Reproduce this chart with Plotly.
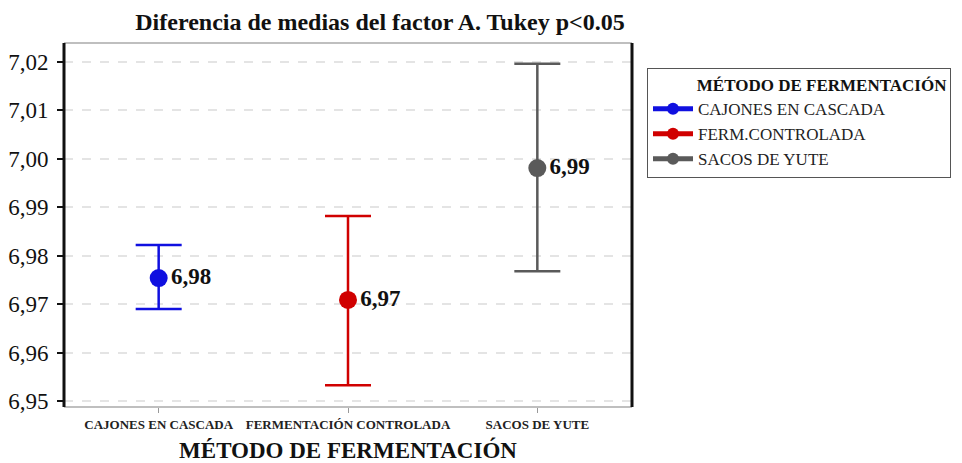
import plotly.graph_objects as go

categories = ["CAJONES EN CASCADA", "FERMENTACIÓN CONTROLADA", "SACOS DE YUTE"]
legend_names = ["CAJONES EN CASCADA", "FERM.CONTROLADA", "SACOS DE YUTE"]
means = [6.9754, 6.9709, 6.9981]
upper = [6.9822, 6.9882, 7.0196]
lower = [6.9690, 6.9533, 6.9768]
labels = ["6,98", "6,97", "6,99"]
colors = ["#1010e0", "#d00000", "#5a5a5a"]
ytick_vals = [6.95, 6.96, 6.97, 6.98, 6.99, 7.00, 7.01, 7.02]

SERIF = "Liberation Serif, Times New Roman, serif"

# page has an 8px body margin; figure is placed at (8, 8)
W, H = 954, 455
L, R, T, B = 56, 330, 35, 56
PW, PH = W - L - R, H - T - B

fig = go.Figure()
for i, cat in enumerate(categories):
    fig.add_trace(go.Scatter(
        x=[cat], y=[means[i]],
        mode="lines+markers+text",
        name=legend_names[i],
        text=["<b>" + labels[i] + "</b>"],
        textposition="middle right",
        textfont=dict(family=SERIF, size=23, color="#111111"),
        marker=dict(color=colors[i], size=18),
        line=dict(color=colors[i], width=2.5),
        error_y=dict(type="data", symmetric=False,
                     array=[upper[i] - means[i]],
                     arrayminus=[means[i] - lower[i]],
                     color=colors[i], thickness=2.5, width=23),
    ))

fig.update_layout(
    width=W, height=H,
    margin=dict(l=L, r=R, t=T, b=B, autoexpand=False),
    paper_bgcolor="white", plot_bgcolor="white",
    separators=",.",
    title=dict(text="<b>Diferencia de medias del factor A. Tukey p<0.05</b>",
               x=(380 - 64) / PW, xref="paper", xanchor="center",
               y=1 - 14 / H, yanchor="middle",
               font=dict(family=SERIF, size=24, color="#111111")),
    showlegend=True,
    legend=dict(
        x=(647 - 64) / PW, xanchor="left",
        y=(407 - 68) / PH, yanchor="top",
        bordercolor="#555555", borderwidth=1,
        font=dict(family=SERIF, size=17, color="#222222"),
        title=dict(text="&nbsp;" * 11 + "<b>MÉTODO DE FERMENTACIÓN</b>",
                   font=dict(family=SERIF, size=17, color="#111111"),
                   side="top"),
        itemwidth=40, tracegroupgap=0, itemsizing="constant",
    ),
    xaxis=dict(
        type="category", categoryorder="array", categoryarray=categories,
        range=[-0.5, 2.5], tickangle=0, automargin=False,
        showgrid=False, zeroline=False, showline=False,
        ticks="outside", ticklen=5, tickcolor="#999999",
        tickfont=dict(family=SERIF, size=13, color="#222222"),
        tickprefix="<b>", ticksuffix="</b>",
        title=dict(text="<b>MÉTODO DE FERMENTACIÓN</b>",
                   font=dict(family=SERIF, size=23, color="#111111"),
                   standoff=16),
    ),
    yaxis=dict(
        range=[6.9488, 7.0239], automargin=False,
        tickvals=ytick_vals, tickformat=".2f",
        showgrid=True, gridcolor="#e4e4e4", griddash="dash", gridwidth=1.5,
        zeroline=False, showline=False,
        ticks="outside", ticklen=6, tickcolor="#111111", tickwidth=2,
        ticklabelstandoff=4,
        tickfont=dict(family=SERIF, size=23, color="#111111"),
        tickprefix="<b>", ticksuffix="</b>",
    ),
    shapes=[
        dict(type="line", xref="paper", yref="paper", x0=0, x1=1, y0=1, y1=1,
             line=dict(color="#aaaaaa", width=1.5)),
        dict(type="line", xref="paper", yref="paper", x0=0, x1=1, y0=0, y1=0,
             line=dict(color="#aaaaaa", width=1.5)),
        dict(type="line", xref="paper", yref="paper", x0=0, x1=0, y0=0, y1=1,
             line=dict(color="#111111", width=3)),
        dict(type="line", xref="paper", yref="paper", x0=1, x1=1, y0=0, y1=1,
             line=dict(color="#111111", width=3)),
    ],
)

fig.write_html("out.html")
